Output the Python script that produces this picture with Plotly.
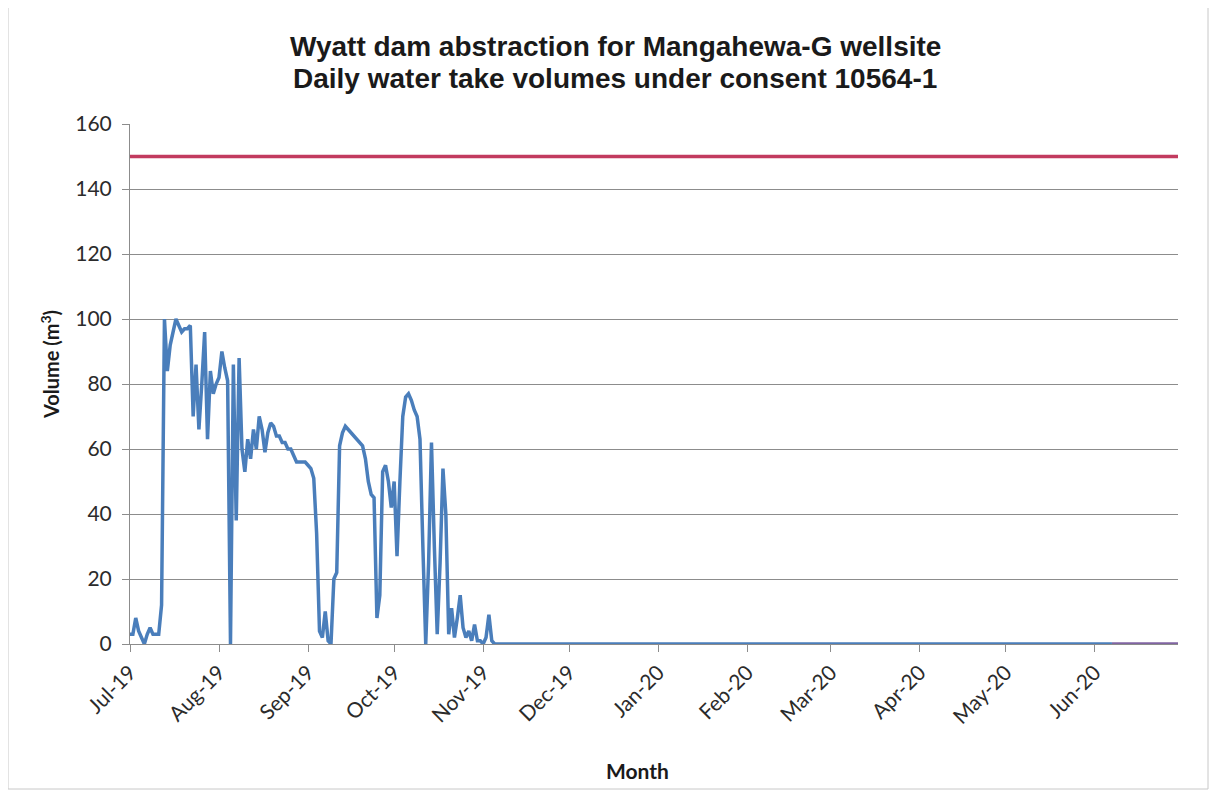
import pandas as pd
import plotly.graph_objects as go

# ---------------- data ----------------
start_date = "2019-07-01"
daily_volumes = [
    3, 3, 8, 4, 2, 0, 3, 5, 3, 3, 3, 12, 100, 84, 92, 96, 100, 98, 96, 97,
    97, 98, 70, 86, 66, 80, 96, 63, 84, 77, 80, 82, 90, 85, 81, 0, 86, 38, 88, 60,
    53, 63, 57, 66, 60, 70, 66, 59, 65, 68, 67, 64, 64, 62, 62, 60, 60, 58, 56, 56,
    56, 56, 55, 54, 51, 34, 4, 2, 10, 1, 0, 20, 22, 61, 65, 67, 66, 65, 64, 63,
    62, 61, 57, 50, 46, 45, 8, 15, 53, 55, 50, 42, 50, 27, 50, 70, 76, 77, 75, 72,
    70, 63, 30, 0, 25, 62, 30, 3, 25, 54, 40, 3, 11, 2, 8, 15, 5, 2, 4, 1,
    6, 1, 1, 0, 2, 9, 1, 0,
]
last_record_date = "2020-06-07"
last_record_value = 0

tail_dates = ["2020-06-07", "2020-06-30"]
tail_values = [0, 0]

limit_dates = ["2019-07-01", "2020-06-30"]
limit_values = [150, 150]

month_ticks = pd.date_range("2019-07-01", "2020-06-01", freq="MS")

title_line1 = "Wyatt dam abstraction for Mangahewa-G wellsite"
title_line2 = "Daily water take volumes under consent 10564-1"
y_title = "Volume (m<sup>3</sup>)"
x_title = "Month"

# ---------------- build ----------------
flow_dates = list(pd.date_range(start_date, periods=len(daily_volumes), freq="D"))
flow_dates.append(pd.Timestamp(last_record_date))
flow_values = daily_volumes + [last_record_value]

fig = go.Figure()
fig.add_trace(go.Scatter(x=limit_dates, y=limit_values, mode="lines",
                         line=dict(color="#c23b5f", width=3.5), showlegend=False))
fig.add_trace(go.Scatter(x=tail_dates, y=tail_values, mode="lines",
                         line=dict(color="#8064a2", width=3.5), showlegend=False))
fig.add_trace(go.Scatter(x=flow_dates, y=flow_values, mode="lines",
                         line=dict(color="#4a7ebb", width=3.5), showlegend=False))

W, H = 1220, 792
OFF = 8  # page offset of the figure
L, T = 122, 116
pw, ph = 1048, 520
R, B = W - L - pw, H - T - ph


def px(x):
    return (x - OFF - L) / pw


def py(y):
    return (T + ph + OFF - y) / ph


grid = "#8c8c8c"
tick_font = dict(family="Lato, Carlito, Calibri, sans-serif", size=21, color="#2b2b2b")

fig.update_layout(
    width=W, height=H,
    margin=dict(l=L, r=R, t=T, b=B),
    paper_bgcolor="white", plot_bgcolor="white",
    xaxis=dict(
        type="date", range=["2019-07-01", "2020-06-30"],
        tickvals=list(month_ticks), tickformat="%b-%y", tickangle=-45,
        ticks="outside", ticklen=7, tickcolor=grid,
        showline=True, linecolor=grid, linewidth=1,
        showgrid=False, zeroline=False, tickfont=tick_font,
    ),
    yaxis=dict(
        range=[0, 160], dtick=20, tick0=0,
        ticks="outside", ticklen=7, tickcolor=grid,
        showline=True, linecolor=grid, linewidth=1,
        showgrid=True, gridcolor=grid, gridwidth=1,
        zeroline=False, tickfont=tick_font, ticklabelstandoff=6,
    ),
    shapes=[dict(type="rect", xref="paper", yref="paper",
                 x0=px(8), x1=px(1208), y0=py(789), y1=py(7),
                 line=dict(color="#c8c8c8", width=1), fillcolor="rgba(0,0,0,0)",
                 layer="below")],
    annotations=[
        dict(text="<b>" + title_line1 + "</b>", xref="paper", yref="paper",
             x=px(615), y=py(46), xanchor="center", yanchor="middle", showarrow=False,
             font=dict(family="Liberation Sans, Arial, sans-serif", size=28, color="#1a1a1a")),
        dict(text="<b>" + title_line2 + "</b>", xref="paper", yref="paper",
             x=px(615), y=py(78), xanchor="center", yanchor="middle", showarrow=False,
             font=dict(family="Liberation Sans, Arial, sans-serif", size=28, color="#1a1a1a")),
        dict(text="<b>" + y_title + "</b>", xref="paper", yref="paper",
             x=px(50), y=py(365), xanchor="center", yanchor="middle", showarrow=False,
             textangle=-90,
             font=dict(family="Lato, Carlito, Calibri, sans-serif", size=20, color="#1a1a1a")),
        dict(text="<b>" + x_title + "</b>", xref="paper", yref="paper",
             x=px(637), y=py(770), xanchor="center", yanchor="middle", showarrow=False,
             font=dict(family="Lato, Carlito, Calibri, sans-serif", size=21, color="#1a1a1a")),
    ],
)

fig.write_html("out.html")
